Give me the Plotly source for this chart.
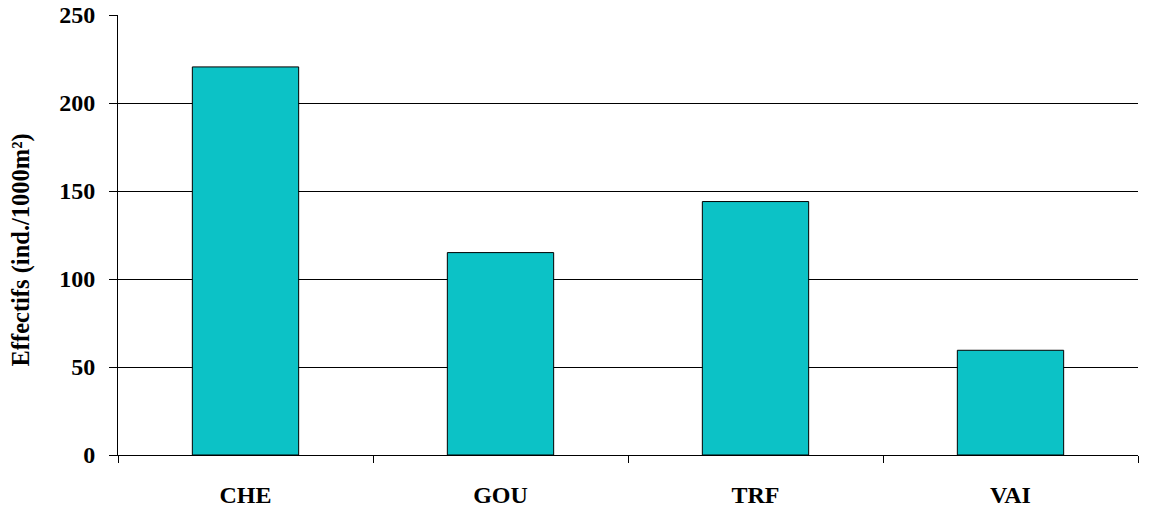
import plotly.graph_objects as go

categories = ["CHE", "GOU", "TRF", "VAI"]
values = [220.5, 115, 144, 59.5]
y_ticks = [0, 50, 100, 150, 200, 250]
y_title = "Effectifs (ind./1000m²)"

font_family = "Liberation Serif, Times New Roman, serif"

fig = go.Figure()
fig.add_trace(go.Bar(
    x=categories,
    y=values,
    width=0.417,
    marker=dict(color="#0cc2c6", line=dict(color="black", width=1)),
    showlegend=False,
))

fig.update_layout(
    width=1149,
    height=510,
    margin=dict(l=118, r=11, t=15, b=55),
    paper_bgcolor="white",
    plot_bgcolor="white",
    font=dict(family=font_family, size=24, color="black"),
    bargap=0.583,
)

fig.update_xaxes(
    type="category",
    range=[-0.5, 3.5],
    automargin=False,
    showline=True,
    linecolor="black",
    linewidth=1,
    ticks="outside",
    tickson="boundaries",
    ticklen=7,
    tickcolor="black",
    tickfont=dict(family=font_family, size=24, color="black", weight="bold"),
    ticklabelstandoff=18,
    ticklabeloverflow="allow",
    showgrid=False,
)

fig.update_yaxes(
    range=[0, 250],
    tickvals=y_ticks,
    automargin=False,
    showline=True,
    linecolor="black",
    linewidth=1,
    ticks="outside",
    ticklen=8,
    tickcolor="black",
    showgrid=True,
    gridcolor="black",
    gridwidth=1,
    zeroline=False,
    tickfont=dict(family=font_family, size=24, color="black", weight="bold"),
    ticklabelstandoff=9,
    ticklabeloverflow="allow",
)

fig.add_annotation(
    text=y_title,
    xref="paper", yref="paper",
    x=-0.095, y=0.465,
    xanchor="center", yanchor="middle",
    textangle=-90,
    showarrow=False,
    font=dict(family=font_family, size=24.5, color="black", weight="bold"),
)

fig.write_html(
    "out.html",
    config={"displayModeBar": False},
    post_script="document.body.style.margin='0';",
)
